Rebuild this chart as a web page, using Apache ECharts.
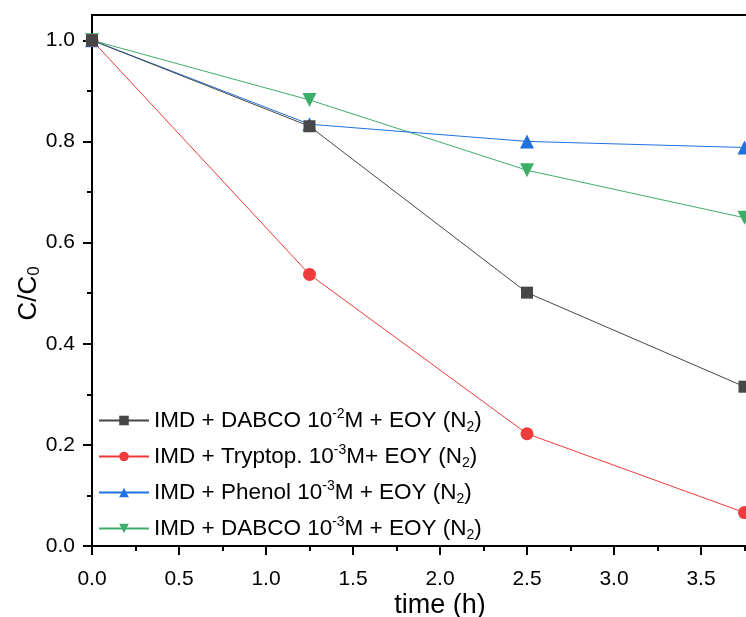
<!DOCTYPE html>
<html><head><meta charset="utf-8">
<script src="https://cdn.jsdelivr.net/npm/echarts@6/dist/echarts.min.js"></script>
<style>html,body{margin:0;padding:0;background:#fff}#c{width:746px;height:617px}</style>
</head><body><div id="c"></div>
<script>
const times = [0, 1.25, 2.5, 3.75];
const dabco2 = [1.0, 0.830, 0.501, 0.315];
const tryptop = [1.0, 0.537, 0.222, 0.066];
const phenol = [1.0, 0.834, 0.800, 0.788];
const dabco3 = [1.0, 0.882, 0.743, 0.649];
const seriesNames = ['dabco2', 'tryptop', 'phenol', 'dabco3'];
const legendLabels = [
  'IMD + DABCO 10{sup|-2}M + EOY (N{sub|2})',
  'IMD + Tryptop. 10{sup|-3}M+ EOY (N{sub|2})',
  'IMD + Phenol 10{sup|-3}M + EOY (N{sub|2})',
  'IMD + DABCO 10{sup|-3}M + EOY (N{sub|2})'
];
const yMajorTicks = [0, 0.2, 0.4, 0.6, 0.8, 1.0];
const yMinorTicks = [0.1, 0.3, 0.5, 0.7, 0.9];
const xMajorTicks = [0, 0.5, 1.0, 1.5, 2.0, 2.5, 3.0, 3.5, 4.0];
const xMinorTicks = [0.25, 0.75, 1.25, 1.75, 2.25, 2.75, 3.25, 3.75];

const FONT = '"Liberation Sans", Arial, sans-serif';
const colors = ['#474747', '#EF3B3B', '#2070E0', '#3DAE6A'];
const symbols = ['rect', 'circle', 'triangle', 'path://M0,0 L10,0 L5,9 Z'];
const sizes = [12, 13, 14, 14];
const values = [dabco2, tryptop, phenol, dabco3];

const chart = echarts.init(document.getElementById('c'), null, {renderer: 'canvas'});

const yBase = {
  type: 'value', min: 0, max: 1.05, position: 'left',
  splitLine: {show: false}, minorTick: {show: false},
  axisLine: {show: true, lineStyle: {color: '#000', width: 2}},
};
const xBase = {
  type: 'value', min: 0, max: 4, position: 'bottom',
  splitLine: {show: false}, minorTick: {show: false},
  axisLine: {show: true, lineStyle: {color: '#000', width: 2}},
};

const option = {
  backgroundColor: '#fff',
  animation: false,
  grid: {left: 92, right: -42, top: 15, bottom: 71, containLabel: false, outerBoundsMode: 'none',
         show: true, borderColor: '#000', borderWidth: 2},
  xAxis: [
    Object.assign({}, xBase, {
      name: 'time (h)', nameLocation: 'middle', nameGap: 46, nameMoveOverlap: false,
      nameTextStyle: {fontFamily: FONT, fontSize: 27, color: '#000'},
      axisTick: {show: true, inside: false, length: 9, customValues: xMajorTicks, lineStyle: {color: '#000', width: 2}},
      axisLabel: {show: true, margin: 23, customValues: xMajorTicks, fontFamily: FONT, fontSize: 21, color: '#000',
                  formatter: v => v.toFixed(1)}
    }),
    Object.assign({}, xBase, {
      axisTick: {show: true, inside: false, length: 5, customValues: xMinorTicks, lineStyle: {color: '#000', width: 2}},
      axisLabel: {show: false}
    })
  ],
  yAxis: [
    Object.assign({}, yBase, {
      name: 'C/C{sub|0}{pad|}', nameLocation: 'middle', nameGap: 49, nameRotate: 90, nameMoveOverlap: false,
      nameTextStyle: {fontFamily: FONT, fontSize: 26, color: '#000',
        rich: {
          sub: {fontFamily: FONT, fontSize: 17, color: '#000', verticalAlign: 'bottom', padding: [12, 0, 0, 0]},
          pad: {width: 26}
        }},
      axisTick: {show: true, inside: false, length: 9, customValues: yMajorTicks, lineStyle: {color: '#000', width: 2}},
      axisLabel: {show: true, margin: 17, customValues: yMajorTicks, fontFamily: FONT, fontSize: 21, color: '#000',
                  formatter: v => v.toFixed(1)}
    }),
    Object.assign({}, yBase, {
      axisTick: {show: true, inside: false, length: 5, customValues: yMinorTicks, lineStyle: {color: '#000', width: 2}},
      axisLabel: {show: false}
    })
  ],
  legend: {
    orient: 'vertical', left: 98, top: 407, padding: 0, itemGap: 9,
    itemWidth: 50, itemHeight: 12,
    data: seriesNames,
    formatter: name => legendLabels[seriesNames.indexOf(name)],
    textStyle: {fontFamily: FONT, fontSize: 22.5, color: '#000', lineHeight: 27,
      rich: {
        sup: {fontFamily: FONT, fontSize: 14, color: '#000', verticalAlign: 'top'},
        sub: {fontFamily: FONT, fontSize: 14, color: '#000', verticalAlign: 'bottom'}
      }}
  },
  series: seriesNames.map((n, i) => ({
    name: n, type: 'line', xAxisIndex: 0, yAxisIndex: 0,
    data: times.map((t, j) => [t, values[i][j]]),
    symbol: symbols[i], symbolSize: sizes[i],
    lineStyle: {color: colors[i], width: 1},
    itemStyle: {color: colors[i], borderWidth: 0},
    z: 10 - i
  }))
};
chart.setOption(option);
</script></body></html>
